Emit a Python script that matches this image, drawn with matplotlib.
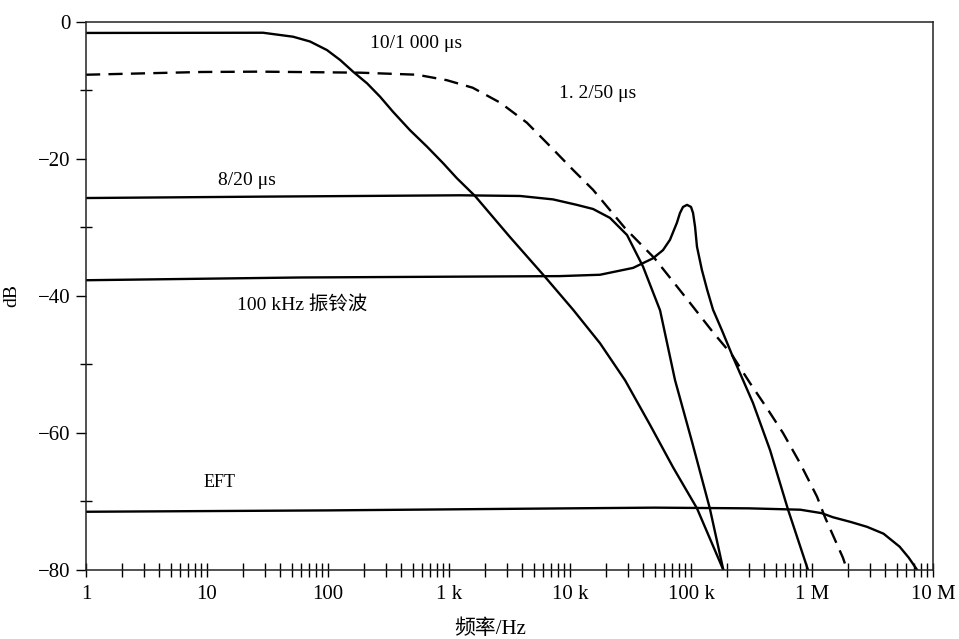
import matplotlib
matplotlib.use("Agg")
import matplotlib.pyplot as plt
from matplotlib.ticker import FixedLocator, FixedFormatter, NullFormatter

plt.rcParams['font.family'] = ['Liberation Serif', 'Noto Sans CJK SC', 'DejaVu Sans']

# frequency (Hz) / level (dB)
f_10_1000 = [1, 29, 51.4, 71, 98, 126, 161, 210, 269, 344, 476, 658, 892, 1160,
             1640, 3190, 6210, 10600, 17700, 28500, 45800, 71000, 112000, 185000]
db_10_1000 = [-1.6, -1.57, -2.15, -2.85, -4.1, -5.55, -7.25, -8.95, -10.9, -13.1,
              -15.8, -18.2, -20.6, -22.8, -25.4, -31.4, -37.2, -42.0, -46.9, -52.3,
              -58.8, -65.0, -71.0, -80.0]

f_1_2_50 = [1, 9, 27.3, 184, 545, 960, 1570, 2660, 4400, 6900, 10600, 15500,
            28500, 50000, 98000, 152000, 218000, 307000, 425000, 576000, 796000,
            1100000, 1280000, 1800000, 1950000]
db_1_2_50 = [-7.7, -7.3, -7.25, -7.4, -7.7, -8.5, -9.6, -11.8, -14.7, -18.2,
             -21.6, -24.5, -30.1, -34.5, -41.0, -45.3, -48.6, -52.7, -56.4, -60.0,
             -64.4, -69.3, -72.3, -78.2, -80.0]

f_8_20 = [1, 27.3, 1230, 3860, 7240, 11400, 15500, 21400, 29600, 40100, 55500,
          73800, 102000, 143000, 185000]
db_8_20 = [-25.7, -25.5, -25.3, -25.4, -25.9, -26.7, -27.3, -28.6, -31.1, -35.7,
           -42.1, -52.3, -61.3, -71.0, -80.0]

f_ring = [1, 58.6, 8200, 17700, 33200, 48500, 58700, 67000, 76500, 81000, 85900,
          92700, 100000, 104000, 108000, 112000, 123000, 136000, 152000, 180000,
          222000, 325000, 450000, 634000, 927000]
db_ring = [-37.7, -37.3, -37.1, -36.9, -35.9, -34.5, -33.3, -31.8, -29.3, -27.9,
           -27.0, -26.7, -27.0, -27.9, -29.9, -32.8, -36.2, -39.1, -42.0, -45.0,
           -48.9, -55.6, -62.5, -71.2, -80.0]

f_eft = [1, 100, 10000, 50000, 300000, 800000, 1200000, 1490000, 2100000, 2850000,
         3900000, 5300000, 6300000, 7400000]
db_eft = [-71.5, -71.3, -71.0, -70.9, -71.0, -71.2, -71.7, -72.3, -73.0, -73.7,
          -74.7, -76.6, -78.2, -80.0]

x_major = [1, 10, 100, 1e3, 1e4, 1e5, 1e6, 1e7]
x_labels = ['1', '10', '100', '1 k', '10 k', '100 k', '1 M', '10 M']
y_major = [0, -20, -40, -60, -80]
y_labels = ['0', '\u221220', '\u221240', '\u221260', '\u221280']
y_minor = [-10, -30, -50, -70]

fig = plt.figure(figsize=(9.59, 6.39), dpi=100)
ax = fig.add_axes([0.0897, 0.108, 0.8832, 0.8576])

lw = 1.7
ax.plot(f_10_1000, db_10_1000, color='black', lw=lw, solid_joinstyle='round')
ax.plot(f_1_2_50, db_1_2_50, color='black', lw=lw, dashes=(6, 3.5))
ax.plot(f_8_20, db_8_20, color='black', lw=lw, solid_joinstyle='round')
ax.plot(f_ring, db_ring, color='black', lw=lw, solid_joinstyle='round')
ax.plot(f_eft, db_eft, color='black', lw=lw, solid_joinstyle='round')

ax.set_xscale('log')
ax.set_xlim(1, 1e7)
ax.set_ylim(-80, 0)

ax.xaxis.set_major_locator(FixedLocator(x_major))
ax.xaxis.set_major_formatter(FixedFormatter(x_labels))
minor = [m * 10 ** d for d in range(7) for m in range(2, 10)]
ax.xaxis.set_minor_locator(FixedLocator(minor))
ax.xaxis.set_minor_formatter(NullFormatter())
ax.yaxis.set_major_locator(FixedLocator(y_major))
ax.yaxis.set_major_formatter(FixedFormatter(y_labels))
ax.yaxis.set_minor_locator(FixedLocator(y_minor))

ax.tick_params(axis='x', which='both', direction='inout', length=10, width=1.0,
               labelsize=15, pad=6)
ax.tick_params(axis='y', which='major', direction='out', length=7, width=1.0,
               labelsize=15, pad=4)
ax.tick_params(axis='y', which='minor', direction='inout', length=8, width=1.0)

for s in ax.spines.values():
    s.set_linewidth(1.1)
    s.set_color('#222222')

ax.text(534, -3.2, '10/1 000 \u03bcs', fontsize=14, ha='center', va='center')
ax.text(17000, -10.5, '1. 2/50 \u03bcs', fontsize=14, ha='center', va='center')
ax.text(21.4, -23.2, '8/20 \u03bcs', fontsize=14, ha='center', va='center')
ax.text(61, -41.3, '100 kHz 振铃波', fontsize=14, ha='center', va='center')
ax.text(12.8, -67.3, 'EFT', fontsize=13, ha='center', va='center')

ax.set_ylabel('dB', fontsize=14)
ax.yaxis.set_label_coords(-0.078, 0.5)
fig.text(0.511, 0.015, '频率/Hz', fontsize=15, ha='center', va='center')

fig.savefig('out.png', dpi=100)
